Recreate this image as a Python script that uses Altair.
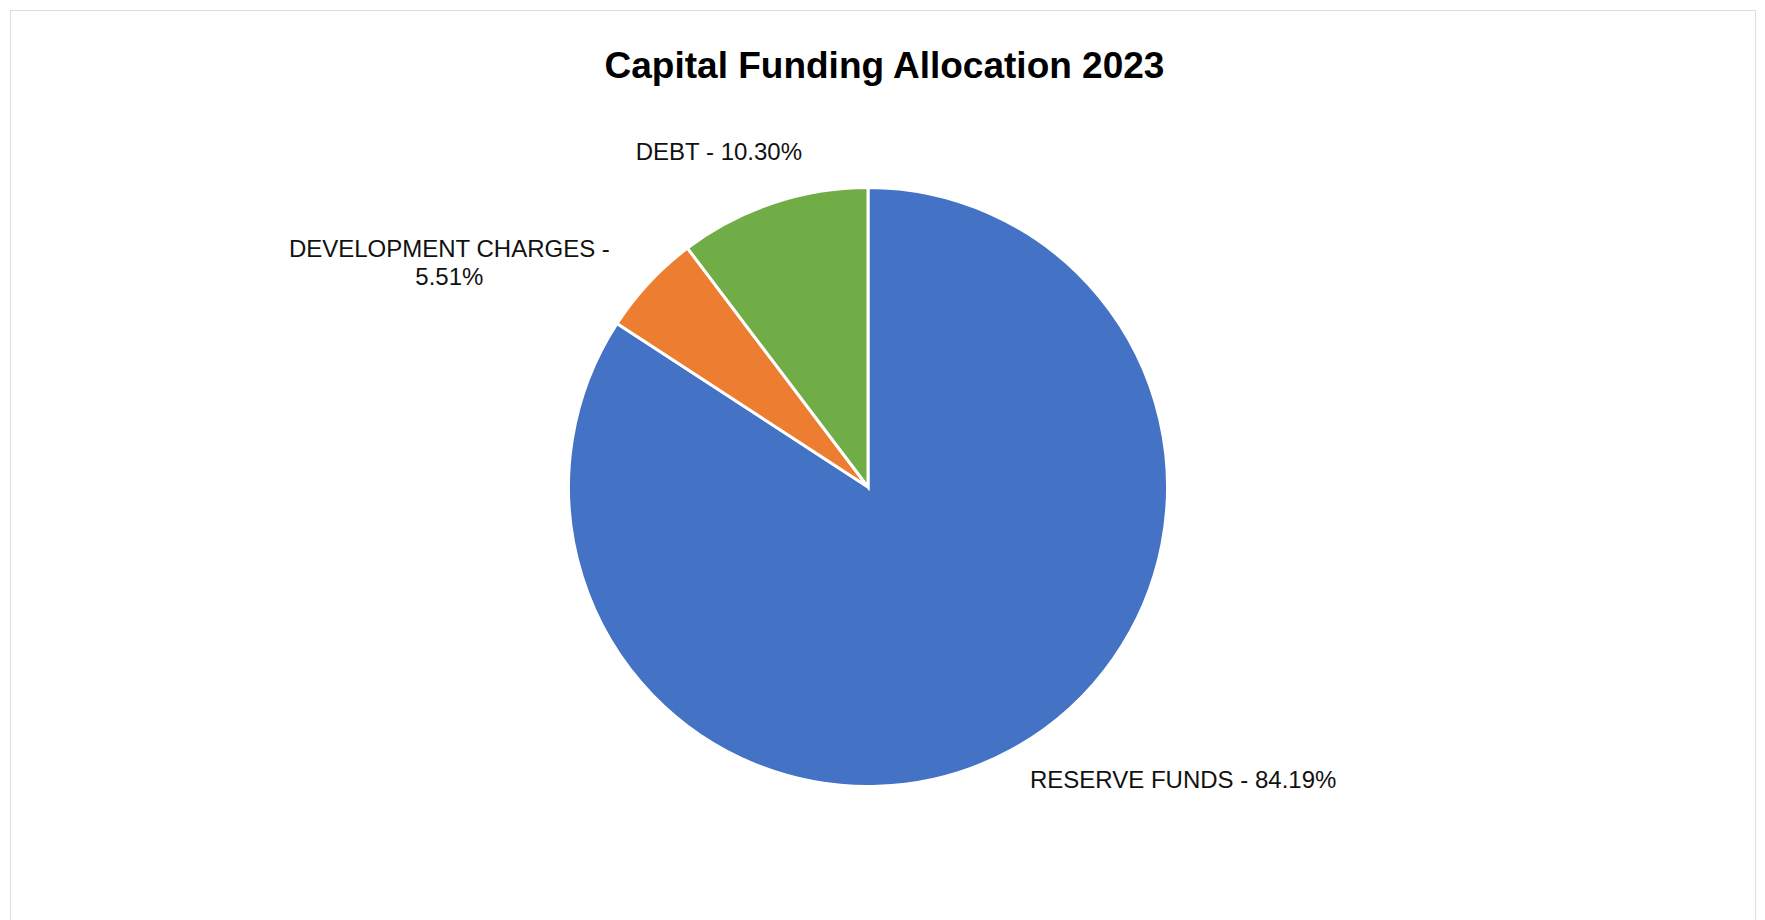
import altair as alt
import pandas as pd

# ---- data ----
categories = ["RESERVE FUNDS", "DEVELOPMENT CHARGES", "DEBT"]
shares = [84.19, 5.51, 10.30]
colors = ["#4472C4", "#ED7D31", "#70AD47"]
wrapped = ["DEVELOPMENT CHARGES"]  # label broken onto two lines

labels = [
    f"{c}{' -' + chr(10) if c in wrapped else ' - '}{v:.2f}%"
    for c, v in zip(categories, shares)
]
total = sum(shares)

df = pd.DataFrame({
    "category": categories,
    "share": shares,
    "label": labels,
    "idx": list(range(len(categories))),
})

W, H = 1745, 912
CX, CY = 858, 477          # pie centre inside the view
R = 299.5                   # outer radius
LR = 340                    # label radius
FONT = "Liberation Sans"

theta_scale = alt.Scale(domain=[0, total])

pie = alt.Chart(df).mark_arc(outerRadius=R, stroke="white", strokeWidth=3).encode(
    theta=alt.Theta("share:Q", stack=True, scale=theta_scale),
    order=alt.Order("idx:Q"),
    color=alt.Color("category:N", scale=alt.Scale(domain=categories, range=colors), legend=None),
    x=alt.value(CX),
    y=alt.value(CY),
)

lab_base = alt.Chart(df).transform_window(
    cum="sum(share)", sort=[alt.SortField("idx")]
).transform_calculate(
    mid="datum.cum - datum.share / 2"
)


def label_layer(cat, align, dx, dy):
    return lab_base.transform_filter(alt.datum.category == cat).mark_text(
        radius=LR, align=align, baseline="middle", dx=dx, dy=dy,
        font=FONT, fontSize=24, color="#111111", lineBreak="\n", lineHeight=28,
    ).encode(
        theta=alt.Theta("mid:Q", scale=theta_scale),
        text="label:N",
        x=alt.value(CX),
        y=alt.value(CY),
    )


chart = alt.layer(
    pie,
    label_layer("RESERVE FUNDS", "left", 0, -5),
    label_layer("DEVELOPMENT CHARGES", "center", -170, -5),
    label_layer("DEBT", "center", -41, -12),
).properties(
    width=W,
    height=H,
    padding=2,
    title=alt.TitleParams(
        "Capital Funding Allocation 2023",
        font=FONT, fontSize=37, fontWeight="bold", color="#000000",
        anchor="middle", baseline="alphabetic", offset=-105, dx=2,
    ),
).configure_view(
    stroke="#d9d9d9", strokeWidth=2
).configure(background="white")

chart.save("out.html", embed_options={"renderer": "svg", "actions": False})
